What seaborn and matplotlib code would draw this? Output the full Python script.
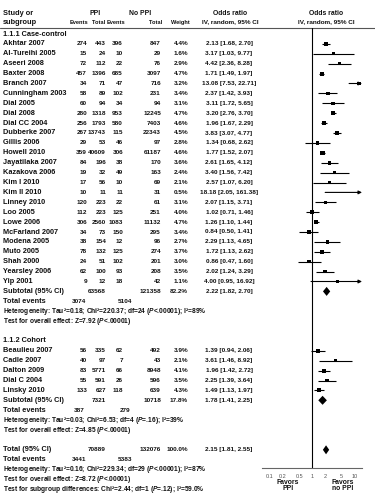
import numpy as np
import pandas as pd
import matplotlib
matplotlib.use('Agg')
import matplotlib.pyplot as plt
import seaborn as sns

# ---- data: case-control studies
cc_study = ['Akhtar 2007', 'Al-Tureihi 2005', 'Aseeri 2008', 'Baxter 2008', 'Branch 2007',
            'Cunningham 2003', 'Dial 2005', 'Dial 2008', 'Dial CC 2004', 'Dubberke 2007',
            'Gillis 2006', 'Howell 2010', 'Jayatilaka 2007', 'Kazakova 2006', 'Kim I 2010',
            'Kim II 2010', 'Linney 2010', 'Loo 2005', 'Lowe 2006', 'McFarland 2007',
            'Modena 2005', 'Muto 2005', 'Shah 2000', 'Yearsley 2006', 'Yip 2001']
cc_ppi_events = [274, 15, 72, 457, 34, 58, 60, 280, 256, 267, 29, 359, 84, 19, 17, 10, 120, 112, 306, 34, 38, 78, 24, 62, 9]
cc_ppi_total = [443, 24, 112, 1396, 71, 89, 94, 1318, 1793, 13743, 53, 40609, 196, 32, 56, 11, 223, 223, 2560, 73, 154, 132, 51, 100, 12]
cc_no_events = [396, 10, 22, 685, 47, 102, 34, 953, 580, 115, 46, 306, 38, 49, 10, 11, 22, 125, 1083, 150, 12, 125, 102, 93, 18]
cc_no_total = [847, 29, 76, 3097, 716, 231, 94, 12245, 7403, 22343, 97, 61187, 170, 163, 69, 31, 61, 251, 11132, 295, 96, 274, 201, 208, 42]
cc_weight = [4.4, 1.6, 2.9, 4.7, 3.2, 3.4, 3.1, 4.7, 4.6, 4.5, 2.8, 4.6, 3.6, 2.4, 2.1, 0.5, 3.1, 4.0, 4.7, 3.4, 2.7, 3.7, 3.0, 3.5, 1.1]
cc_or = [2.13, 3.17, 4.42, 1.71, 13.08, 2.37, 3.11, 3.20, 1.96, 3.83, 1.34, 1.77, 2.61, 3.40, 2.57, 18.18, 2.07, 1.02, 1.26, 0.84, 2.29, 1.72, 0.86, 2.02, 4.00]
cc_lo = [1.68, 1.03, 2.36, 1.49, 7.53, 1.42, 1.72, 2.76, 1.67, 3.07, 0.68, 1.52, 1.65, 1.56, 1.07, 2.05, 1.15, 0.71, 1.10, 0.50, 1.13, 1.13, 0.47, 1.24, 0.95]
cc_hi = [2.70, 9.77, 8.28, 1.97, 22.71, 3.93, 5.65, 3.70, 2.29, 4.77, 2.62, 2.07, 4.12, 7.42, 6.20, 161.38, 3.71, 1.46, 1.44, 1.41, 4.65, 2.62, 1.60, 3.29, 16.92]

# ---- data: cohort studies
co_study = ['Beaulieu 2007', 'Cadle 2007', 'Dalton 2009', 'Dial C 2004', 'Linsky 2010']
co_ppi_events = [56, 40, 83, 55, 133]
co_ppi_total = [335, 97, 5771, 591, 627]
co_no_events = [62, 7, 66, 26, 118]
co_no_total = [492, 43, 8948, 596, 639]
co_weight = [3.9, 2.1, 4.1, 3.5, 4.3]
co_or = [1.39, 3.61, 1.96, 2.25, 1.49]
co_lo = [0.94, 1.46, 1.42, 1.39, 1.13]
co_hi = [2.06, 8.92, 2.72, 3.64, 1.97]

# ---- pooled estimates
pool_label = ['Subtotal (95% CI)', 'Subtotal (95% CI)', 'Total (95% CI)']
pool_ppi_total = [63568, 7321, 70889]
pool_no_total = [121358, 10718, 132076]
pool_weight = [82.2, 17.8, 100.0]
pool_or = [2.22, 1.78, 2.15]
pool_lo = [1.82, 1.41, 1.81]
pool_hi = [2.70, 2.25, 2.55]
pool_ppi_events = [3074, 387, 3441]
pool_no_events = [5104, 279, 5383]
het_text = [r'Heterogeneity: Tau²=0.18; Chi²=220.37; df=24 ($\mathit{P}$<.00001); I²=89%',
            r'Heterogeneity: Tau²=0.03; Chi²=6.53; df=4 ($\mathit{P}$=.16); I²=39%',
            r'Heterogeneity: Tau²=0.16; Chi²=229.34; df=29 ($\mathit{P}$<.00001); I²=87%']
eff_text = [r'Test for overall effect: Z=7.92 ($\mathit{P}$<.00001)',
            r'Test for overall effect: Z=4.85 ($\mathit{P}$<.00001)',
            r'Test for overall effect: Z=8.72 ($\mathit{P}$<.00001)']
subgroup_text = r'Test for subgroup differences: Chi²=2.44; df=1 ($\mathit{P}$=.12); I²=59.0%'
ticks = [0.1, 0.2, 0.5, 1, 2, 5, 10]

sns.set_style('white')
plt.rcParams['font.family'] = ['Liberation Sans', 'DejaVu Sans']
plt.rcParams['mathtext.fontset'] = 'custom'
plt.rcParams['mathtext.rm'] = 'Liberation Sans:bold'
plt.rcParams['mathtext.it'] = 'Liberation Sans:italic:bold'

W, H = 375, 501
Y0, DY = 34, 9.9
FS_NAME, FS_NUM, FS_STAT, FS_HEAD = 5.3, 4.6, 4.8, 4.1
TC = '#111111'
XMIN, XMAX = 0.066, 15.2


def ry(i):
    return Y0 + i * DY


fig = plt.figure(figsize=(W / 100, H / 100), dpi=100)
tx = fig.add_axes([0, 0, 1, 1])
tx.set_xlim(0, W)
tx.set_ylim(H, 0)
tx.axis('off')


def put(x, y, s, ha='left', fs=FS_NUM, **kw):
    tx.text(x, y, s, ha=ha, va='center', fontsize=fs, color=TC, fontweight='bold', **kw)


# header
put(3, 13, 'Study or', fs=FS_NAME)
put(3, 22, 'subgroup', fs=FS_NAME)
put(95, 13, 'PPI', ha='center', fs=4.9)
put(140, 13, 'No PPI', ha='center', fs=4.9)
put(88, 22, 'Events', ha='right', fs=FS_HEAD)
put(105, 22, 'Total', ha='right', fs=FS_HEAD)
put(125, 22, 'Events', ha='right', fs=FS_HEAD)
put(162, 22, 'Total', ha='right', fs=FS_HEAD)
put(190, 22, 'Weight', ha='right', fs=FS_HEAD)
put(230, 13, 'Odds ratio', ha='center', fs=4.9)
put(230, 22, 'IV, random, 95% CI', ha='center')
put(326, 13, 'Odds ratio', ha='center', fs=4.9)
put(326, 22, 'IV, random, 95% CI', ha='center')
tx.plot([0, W], [28, 28], color='#555555', lw=0.8)

# build the table of study rows
cc = pd.DataFrame({'study': cc_study, 'pe': cc_ppi_events, 'pt': cc_ppi_total,
                   'ne': cc_no_events, 'nt': cc_no_total, 'w': cc_weight,
                   'or': cc_or, 'lo': cc_lo, 'hi': cc_hi})
cc['row'] = np.arange(1, len(cc) + 1)
co = pd.DataFrame({'study': co_study, 'pe': co_ppi_events, 'pt': co_ppi_total,
                   'ne': co_no_events, 'nt': co_no_total, 'w': co_weight,
                   'or': co_or, 'lo': co_lo, 'hi': co_hi})
co['row'] = np.arange(32, 32 + len(co))
df = pd.concat([cc, co], ignore_index=True)
df['y'] = ry(df['row'])

put(3, ry(0), '1.1.1 Case-control', fs=FS_NAME)
put(3, ry(31), '1.1.2 Cohort', fs=FS_NAME)

for _, r in df.iterrows():
    y = r['y']
    put(3, y, r['study'], fs=FS_NAME)
    put(87, y, f"{r['pe']}", ha='right')
    put(106, y, f"{r['pt']}", ha='right')
    put(123, y, f"{r['ne']}", ha='right')
    put(161, y, f"{r['nt']}", ha='right')
    put(188, y, f"{r['w']:.1f}%", ha='right')
    put(229, y, f"{r['or']:.2f} [{r['lo']:.2f}, {r['hi']:.2f}]", ha='center')

pool_rows = [26, 37, 42]
for k, row in enumerate(pool_rows):
    put(3, ry(row), pool_label[k], fs=FS_NAME)
    put(106, ry(row), f'{pool_ppi_total[k]}', ha='right')
    put(161, ry(row), f'{pool_no_total[k]}', ha='right')
    put(188, ry(row), f'{pool_weight[k]:.1f}%', ha='right')
    put(229, ry(row), f'{pool_or[k]:.2f} [{pool_lo[k]:.2f}, {pool_hi[k]:.2f}]', ha='center')
    put(3, ry(row + 1), 'Total events', fs=FS_NAME)
    put(79, ry(row + 1), f'{pool_ppi_events[k]}', ha='center')
    put(125, ry(row + 1), f'{pool_no_events[k]}', ha='center')
    put(3, ry(row + 2), het_text[k], fs=FS_STAT)
    put(3, ry(row + 3), eff_text[k], fs=FS_STAT)
put(3, ry(46), subgroup_text, fs=FS_STAT)

# ---- forest panel
AX_TOP, AX_BOT, AX_L, AX_R = 28, 468, 262, 362
fx = fig.add_axes([AX_L / W, 1 - AX_BOT / H, (AX_R - AX_L) / W, (AX_BOT - AX_TOP) / H])
fx.patch.set_alpha(0)
fx.set_xscale('log')
fx.set_xlim(XMIN, XMAX)
fx.set_ylim(AX_BOT, AX_TOP)

inside = df[df['hi'] <= XMAX]
outside = df[df['hi'] > XMAX]
fx.hlines(inside['y'], inside['lo'], inside['hi'], color='black', lw=0.8)
for _, r in outside.iterrows():
    fx.annotate('', xy=(XMAX, r['y']), xytext=(r['lo'], r['y']),
                arrowprops=dict(arrowstyle='-|>', color='black', lw=0.8,
                                mutation_scale=5, shrinkA=0, shrinkB=0))
sns.scatterplot(data=df, x='or', y='y', size='w', sizes=(2, 9), marker='s',
                color='black', edgecolor='none', legend=False, ax=fx)

for k, row in enumerate(pool_rows):
    y = ry(row)
    fx.fill([pool_lo[k], pool_or[k], pool_hi[k], pool_or[k]],
            [y, y - 4.5, y, y + 4.5], color='black', lw=0)

fx.axvline(1, color='black', lw=0.8)
sns.despine(ax=fx, left=True, top=True, right=True)
fx.spines['bottom'].set_color('#666666')
fx.spines['bottom'].set_linewidth(0.8)
fx.set_yticks([])
fx.set_xticks(ticks)
fx.set_xticklabels([f'{t:g}' for t in ticks])
fx.minorticks_off()
fx.tick_params(axis='x', length=2, width=0.6, color='#666666', labelsize=4.0,
               labelcolor='#555555', pad=2)
fx.set_xlabel('')
fx.set_ylabel('')

put(288, 482, 'Favors', ha='center', fs=4.9)
put(288, 489, 'PPI', ha='center', fs=4.9)
put(343, 482, 'Favors', ha='center', fs=4.9)
put(343, 489, 'no PPI', ha='center', fs=4.9)

fig.savefig('out.png', dpi=100)
